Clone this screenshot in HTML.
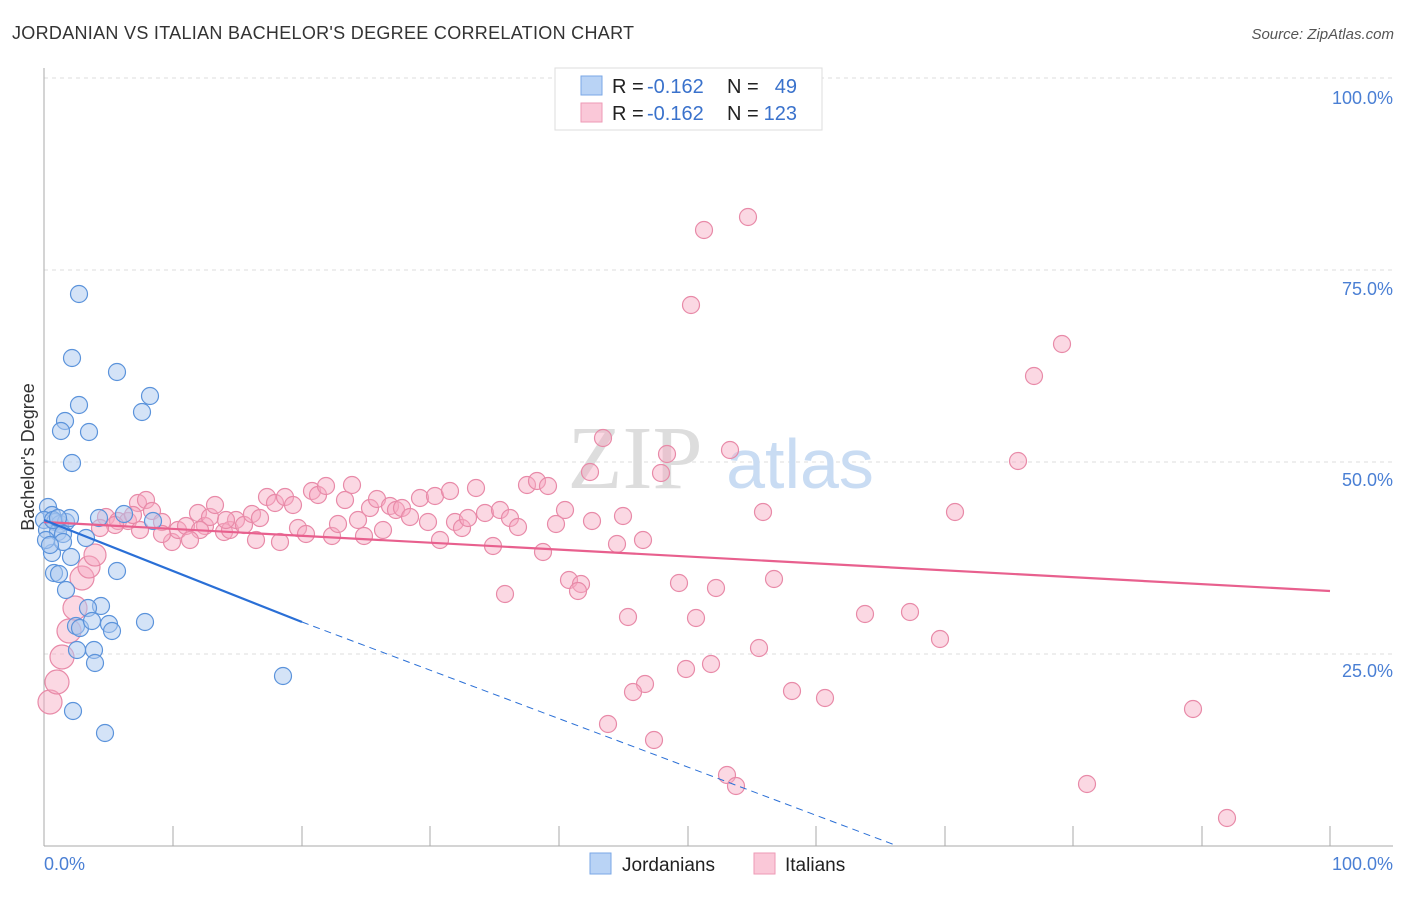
<!DOCTYPE html>
<html><head><meta charset="utf-8"><style>
body{margin:0;background:#fff;font-family:"Liberation Sans",sans-serif}
</style></head><body>
<svg width="1406" height="892" xmlns="http://www.w3.org/2000/svg" font-family="Liberation Sans, sans-serif">
<rect width="1406" height="892" fill="#fff"/>
<text x="12" y="39" font-size="18" fill="#333" letter-spacing="0.3">JORDANIAN VS ITALIAN BACHELOR'S DEGREE CORRELATION CHART</text>
<text x="1394" y="39" font-size="15" fill="#555" font-style="italic" text-anchor="end">Source: ZipAtlas.com</text>
<g stroke="#ddd" stroke-dasharray="4,4" stroke-width="1">
<line x1="44" y1="78" x2="1393" y2="78"/><line x1="44" y1="270" x2="1393" y2="270"/><line x1="44" y1="462" x2="1393" y2="462"/><line x1="44" y1="654" x2="1393" y2="654"/>
</g>
<line x1="44" y1="68" x2="44" y2="846" stroke="#aaa"/>
<line x1="44" y1="846" x2="1393" y2="846" stroke="#aaa"/>
<g stroke="#aaa"><line x1="173" y1="826" x2="173" y2="846"/><line x1="302" y1="826" x2="302" y2="846"/><line x1="430" y1="826" x2="430" y2="846"/><line x1="559" y1="826" x2="559" y2="846"/><line x1="688" y1="826" x2="688" y2="846"/><line x1="816" y1="826" x2="816" y2="846"/><line x1="945" y1="826" x2="945" y2="846"/><line x1="1073" y1="826" x2="1073" y2="846"/><line x1="1202" y1="826" x2="1202" y2="846"/><line x1="1330" y1="826" x2="1330" y2="846"/></g>
<g font-size="18" fill="#4a7fd4" text-anchor="end">
<text x="1393" y="104">100.0%</text><text x="1393" y="295">75.0%</text><text x="1393" y="486">50.0%</text><text x="1393" y="677">25.0%</text>
</g>
<text x="44" y="870" font-size="18" fill="#4a7fd4">0.0%</text>
<text x="1393" y="870" font-size="18" fill="#4a7fd4" text-anchor="end">100.0%</text>
<text transform="translate(34,457) rotate(-90)" font-size="18" fill="#333" text-anchor="middle">Bachelor's Degree</text>
<text x="635" y="488" font-size="90" fill="#ddd" font-family="Liberation Serif, serif" text-anchor="middle">ZIP</text>
<text x="800" y="488" font-size="70" fill="#c9dcf3" text-anchor="middle">atlas</text>
<g fill="#f7a8c2" fill-opacity="0.45" stroke="#e88aa8" stroke-width="1.2">
<circle cx="50" cy="702" r="12"/><circle cx="57" cy="682" r="12"/><circle cx="62" cy="657" r="12"/><circle cx="69" cy="631" r="12"/><circle cx="75" cy="608" r="12"/><circle cx="82" cy="578" r="12"/><circle cx="89" cy="567" r="11"/><circle cx="95" cy="555" r="11"/>
<circle cx="704" cy="230" r="8.5"/><circle cx="748" cy="217" r="8.5"/><circle cx="691" cy="305" r="8.5"/><circle cx="1062" cy="344" r="8.5"/><circle cx="1034" cy="376" r="8.5"/><circle cx="603" cy="438" r="8.5"/><circle cx="730" cy="450" r="8.5"/><circle cx="667" cy="454" r="8.5"/><circle cx="1018" cy="461" r="8.5"/><circle cx="590" cy="472" r="8.5"/><circle cx="661" cy="473" r="8.5"/><circle cx="527" cy="485" r="8.5"/><circle cx="537" cy="481" r="8.5"/><circle cx="548" cy="486" r="8.5"/><circle cx="476" cy="488" r="8.5"/><circle cx="763" cy="512" r="8.5"/><circle cx="955" cy="512" r="8.5"/><circle cx="623" cy="516" r="8.5"/><circle cx="592" cy="521" r="8.5"/><circle cx="556" cy="524" r="8.5"/><circle cx="565" cy="510" r="8.5"/><circle cx="617" cy="544" r="8.5"/><circle cx="643" cy="540" r="8.5"/><circle cx="543" cy="552" r="8.5"/><circle cx="569" cy="580" r="8.5"/><circle cx="581" cy="584" r="8.5"/><circle cx="578" cy="591" r="8.5"/><circle cx="679" cy="583" r="8.5"/><circle cx="716" cy="588" r="8.5"/><circle cx="774" cy="579" r="8.5"/><circle cx="505" cy="594" r="8.5"/><circle cx="628" cy="617" r="8.5"/><circle cx="696" cy="618" r="8.5"/><circle cx="865" cy="614" r="8.5"/><circle cx="910" cy="612" r="8.5"/><circle cx="940" cy="639" r="8.5"/><circle cx="759" cy="648" r="8.5"/><circle cx="711" cy="664" r="8.5"/><circle cx="686" cy="669" r="8.5"/><circle cx="645" cy="684" r="8.5"/><circle cx="633" cy="692" r="8.5"/><circle cx="792" cy="691" r="8.5"/><circle cx="825" cy="698" r="8.5"/><circle cx="1193" cy="709" r="8.5"/><circle cx="608" cy="724" r="8.5"/><circle cx="654" cy="740" r="8.5"/><circle cx="727" cy="775" r="8.5"/><circle cx="736" cy="786" r="8.5"/><circle cx="1087" cy="784" r="8.5"/><circle cx="1227" cy="818" r="8.5"/>
<circle cx="106" cy="517" r="8.5"/><circle cx="118" cy="521" r="8.5"/><circle cx="128" cy="521" r="8.5"/><circle cx="138" cy="503" r="8.5"/><circle cx="146" cy="500" r="8.5"/><circle cx="152" cy="511" r="8.5"/><circle cx="162" cy="522" r="8.5"/><circle cx="172" cy="542" r="8.5"/><circle cx="178" cy="530" r="8.5"/><circle cx="186" cy="526" r="8.5"/><circle cx="198" cy="513" r="8.5"/><circle cx="205" cy="526" r="8.5"/><circle cx="210" cy="517" r="8.5"/><circle cx="215" cy="505" r="8.5"/><circle cx="224" cy="532" r="8.5"/><circle cx="230" cy="530" r="8.5"/><circle cx="236" cy="520" r="8.5"/><circle cx="244" cy="525" r="8.5"/><circle cx="252" cy="514" r="8.5"/><circle cx="260" cy="518" r="8.5"/><circle cx="267" cy="497" r="8.5"/><circle cx="275" cy="503" r="8.5"/><circle cx="285" cy="497" r="8.5"/><circle cx="293" cy="505" r="8.5"/><circle cx="298" cy="528" r="8.5"/><circle cx="306" cy="534" r="8.5"/><circle cx="312" cy="491" r="8.5"/><circle cx="318" cy="495" r="8.5"/><circle cx="326" cy="486" r="8.5"/><circle cx="332" cy="536" r="8.5"/><circle cx="338" cy="524" r="8.5"/><circle cx="345" cy="500" r="8.5"/><circle cx="352" cy="485" r="8.5"/><circle cx="358" cy="520" r="8.5"/><circle cx="364" cy="536" r="8.5"/><circle cx="370" cy="508" r="8.5"/><circle cx="377" cy="499" r="8.5"/><circle cx="383" cy="530" r="8.5"/><circle cx="390" cy="506" r="8.5"/><circle cx="396" cy="510" r="8.5"/><circle cx="402" cy="508" r="8.5"/><circle cx="410" cy="517" r="8.5"/><circle cx="420" cy="498" r="8.5"/><circle cx="428" cy="522" r="8.5"/><circle cx="435" cy="496" r="8.5"/><circle cx="440" cy="540" r="8.5"/><circle cx="450" cy="491" r="8.5"/><circle cx="455" cy="522" r="8.5"/><circle cx="462" cy="528" r="8.5"/><circle cx="468" cy="518" r="8.5"/><circle cx="485" cy="513" r="8.5"/><circle cx="493" cy="546" r="8.5"/><circle cx="500" cy="510" r="8.5"/><circle cx="510" cy="518" r="8.5"/><circle cx="518" cy="527" r="8.5"/><circle cx="226" cy="520" r="8.5"/><circle cx="200" cy="530" r="8.5"/><circle cx="190" cy="540" r="8.5"/><circle cx="256" cy="540" r="8.5"/><circle cx="280" cy="542" r="8.5"/><circle cx="140" cy="530" r="8.5"/><circle cx="115" cy="525" r="8.5"/><circle cx="133" cy="515" r="8.5"/><circle cx="162" cy="534" r="8.5"/><circle cx="100" cy="528" r="8.5"/>
</g>
<g fill="#a9c8f0" fill-opacity="0.5" stroke="#5b93db" stroke-width="1.2">
<circle cx="79" cy="294" r="8.5"/><circle cx="72" cy="358" r="8.5"/><circle cx="117" cy="372" r="8.5"/><circle cx="150" cy="396" r="8.5"/><circle cx="79" cy="405" r="8.5"/><circle cx="142" cy="412" r="8.5"/><circle cx="65" cy="421" r="8.5"/><circle cx="61" cy="431" r="8.5"/><circle cx="89" cy="432" r="8.5"/><circle cx="72" cy="463" r="8.5"/><circle cx="48" cy="507" r="8.5"/><circle cx="52" cy="515" r="8.5"/><circle cx="44" cy="520" r="8.5"/><circle cx="55" cy="522" r="8.5"/><circle cx="60" cy="524" r="8.5"/><circle cx="66" cy="522" r="8.5"/><circle cx="70" cy="518" r="8.5"/><circle cx="99" cy="518" r="8.5"/><circle cx="124" cy="514" r="8.5"/><circle cx="153" cy="521" r="8.5"/><circle cx="47" cy="530" r="8.5"/><circle cx="58" cy="532" r="8.5"/><circle cx="63" cy="534" r="8.5"/><circle cx="86" cy="538" r="8.5"/><circle cx="52" cy="553" r="8.5"/><circle cx="71" cy="557" r="8.5"/><circle cx="54" cy="573" r="8.5"/><circle cx="59" cy="574" r="8.5"/><circle cx="117" cy="571" r="8.5"/><circle cx="66" cy="590" r="8.5"/><circle cx="101" cy="606" r="8.5"/><circle cx="88" cy="608" r="8.5"/><circle cx="76" cy="626" r="8.5"/><circle cx="80" cy="628" r="8.5"/><circle cx="109" cy="624" r="8.5"/><circle cx="112" cy="631" r="8.5"/><circle cx="92" cy="621" r="8.5"/><circle cx="145" cy="622" r="8.5"/><circle cx="77" cy="650" r="8.5"/><circle cx="94" cy="650" r="8.5"/><circle cx="95" cy="663" r="8.5"/><circle cx="73" cy="711" r="8.5"/><circle cx="105" cy="733" r="8.5"/><circle cx="283" cy="676" r="8.5"/><circle cx="63" cy="542" r="8.5"/><circle cx="46" cy="540" r="8.5"/><circle cx="50" cy="545" r="8.5"/><circle cx="53" cy="520" r="8.5"/><circle cx="58" cy="518" r="8.5"/>
</g>
<line x1="44" y1="522" x2="1330" y2="591" stroke="#e8608e" stroke-width="2.2"/>
<line x1="44" y1="520" x2="302" y2="622" stroke="#2a6fd6" stroke-width="2.2"/>
<line x1="302" y1="622" x2="895" y2="845" stroke="#2a6fd6" stroke-width="1" stroke-dasharray="7,5"/>
<rect x="555" y="68" width="267" height="62" fill="#fff" stroke="#ddd"/>
<rect x="581" y="76" width="21" height="19" fill="#b9d3f5" stroke="#7aa7e6"/>
<rect x="581" y="103" width="21" height="19" fill="#fac8d8" stroke="#ee9ab6"/>
<g font-size="20" fill="#222">
<text x="612" y="93">R =</text><text x="727" y="93">N =</text>
<text x="612" y="120">R =</text><text x="727" y="120">N =</text>
</g>
<g font-size="20" fill="#3a72cc">
<text x="647" y="93">-0.162</text><text x="797" y="93" text-anchor="end">49</text>
<text x="647" y="120">-0.162</text><text x="797" y="120" text-anchor="end">123</text>
</g>
<rect x="590" y="853" width="21" height="21" fill="#b9d3f5" stroke="#7aa7e6"/>
<text x="622" y="871" font-size="19" fill="#222">Jordanians</text>
<rect x="754" y="853" width="21" height="21" fill="#fac8d8" stroke="#ee9ab6"/>
<text x="785" y="871" font-size="19" fill="#222">Italians</text>
</svg>
</body></html>
